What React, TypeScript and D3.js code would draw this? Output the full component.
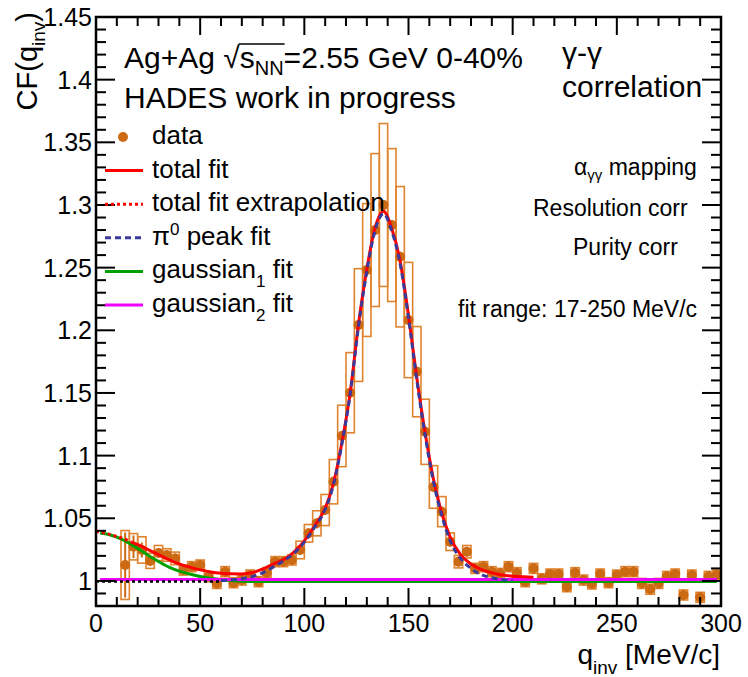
import React, { useLayoutEffect, useRef, useState } from "react";
import * as d3 from "d3";

// ---- data ----
const qBins = [14, 18, 22, 26, 30, 34, 38, 42, 46, 50, 54, 58, 62, 66, 70, 74, 78, 82, 86, 90, 94, 98, 102, 106, 110, 114, 118, 122, 126, 130, 134, 138, 142, 146, 150, 154, 158, 162, 166, 170, 174, 178, 182, 186, 190, 194, 198, 202, 206, 210, 214, 218, 222, 226, 230, 234, 238, 242, 246, 250, 254, 258, 262, 266, 270, 274, 278, 282, 286, 290, 294, 298];
const cfValues = [1.0127, 1.0273, 1.0247, 1.016, 1.0223, 1.0207, 1.018, 1.0087, 1.0114, 1.0127, 1.0034, 0.998, 1.0074, 0.9986, 1.0007, 1.0047, 0.9994, 1.0066, 1.0154, 1.0154, 1.0167, 1.0247, 1.038, 1.046, 1.0566, 1.0792, 1.1157, 1.1502, 1.2042, 1.2481, 1.28, 1.3, 1.284, 1.2587, 1.2082, 1.167, 1.119, 1.075, 1.0553, 1.0313, 1.0154, 1.0233, 1.01, 1.0114, 1.0074, 1.006, 1.0114, 1.0066, 0.9994, 1.01, 1.0017, 1.0055, 1.0055, 0.9954, 1.0066, 1.0007, 0.9976, 1.0055, 0.9986, 1.0047, 1.0074, 1.0074, 0.998, 0.9934, 0.998, 1.0036, 1.0055, 0.9888, 1.0047, 0.9869, 1.0036, 1.0047];
const statErrors = [0.026, 0.009, 0.006, 0.004, 0.004, 0.004, 0.004, 0.004, 0.004, 0.004, 0.004, 0.004, 0.004, 0.004, 0.004, 0.004, 0.004, 0.004, 0.004, 0.004, 0.004, 0.004, 0.004, 0.004, 0.004, 0.004, 0.004, 0.004, 0.004, 0.004, 0.004, 0.004, 0.004, 0.004, 0.004, 0.004, 0.004, 0.004, 0.004, 0.004, 0.004, 0.004, 0.004, 0.004, 0.004, 0.004, 0.004, 0.004, 0.004, 0.004, 0.004, 0.004, 0.004, 0.004, 0.004, 0.004, 0.004, 0.004, 0.004, 0.004, 0.004, 0.004, 0.004, 0.004, 0.004, 0.004, 0.004, 0.004, 0.004, 0.004, 0.004, 0.004];
const sysErrors = [0.0275, 0.0105, 0.0105, 0.006, 0.006, 0.005, 0.005, 0.004, 0.004, 0.004, 0.004, 0.004, 0.004, 0.004, 0.004, 0.004, 0.004, 0.004, 0.004, 0.004, 0.004, 0.007, 0.007, 0.01, 0.0124, 0.0177, 0.0245, 0.032, 0.045, 0.053, 0.061, 0.065, 0.061, 0.056, 0.046, 0.036, 0.026, 0.017, 0.012, 0.007, 0.005, 0.005, 0.004, 0.004, 0.004, 0.004, 0.004, 0.004, 0.004, 0.004, 0.004, 0.004, 0.004, 0.004, 0.004, 0.004, 0.004, 0.004, 0.004, 0.004, 0.004, 0.004, 0.004, 0.004, 0.004, 0.004, 0.004, 0.004, 0.004, 0.004, 0.004, 0.004];

const totalFitQ = [17, 20, 25, 30, 35, 40, 45, 50, 55, 60, 65, 70, 75, 80, 85, 90, 95, 100, 105, 110, 114, 118, 122, 126, 130, 134, 138, 142, 146, 150, 154, 158, 162, 166, 170, 175, 180, 185, 190, 195, 200, 205, 210];
const totalFitCF = [1.031, 1.029, 1.025, 1.021, 1.017, 1.0135, 1.011, 1.0088, 1.0072, 1.0062, 1.0057, 1.0056, 1.0065, 1.0095, 1.0135, 1.017, 1.023, 1.032, 1.044, 1.058, 1.078, 1.11, 1.15, 1.205, 1.249, 1.282, 1.295, 1.281, 1.255, 1.212, 1.162, 1.118, 1.081, 1.054, 1.035, 1.021, 1.0135, 1.009, 1.0065, 1.0048, 1.0038, 1.0033, 1.003];
const extrapQ = [0, 5, 10, 15, 17];
const extrapCF = [1.0395, 1.0378, 1.0355, 1.0325, 1.031];
const peakFitQ = [60, 65, 70, 75, 80, 85, 90, 95, 100, 105, 110, 114, 118, 122, 126, 130, 134, 138, 142, 146, 150, 154, 158, 162, 166, 170, 175, 180, 185, 190, 195, 200];
const peakFitCF = [1.0003, 1.0008, 1.0018, 1.0035, 1.0065, 1.011, 1.016, 1.022, 1.031, 1.043, 1.057, 1.077, 1.109, 1.149, 1.203, 1.247, 1.28, 1.293, 1.279, 1.253, 1.21, 1.16, 1.116, 1.079, 1.052, 1.032, 1.018, 1.01, 1.005, 1.0025, 1.001, 1.0005];
const peakBaseQ = [0, 60];
const peakBaseCF = [0.9995, 0.9995];
const gauss1Q = [2, 5, 10, 15, 20, 25, 30, 35, 40, 45, 50, 55, 60, 65, 70, 80, 298];
const gauss1CF = [1.038, 1.0375, 1.035, 1.031, 1.026, 1.0205, 1.0155, 1.011, 1.0078, 1.0055, 1.0035, 1.002, 1.001, 1.0003, 0.9998, 0.9995, 0.9995];
const gauss2Q = [2, 298];
const gauss2CF = [1.0012, 1.0012];

const xMajorTicks = [0, 50, 100, 150, 200, 250, 300];
const xTickLabels = ["0", "50", "100", "150", "200", "250", "300"];
const yMajorTicks = [1, 1.05, 1.1, 1.15, 1.2, 1.25, 1.3, 1.35, 1.4, 1.45];
const yTickLabels = ["1", "1.05", "1.1", "1.15", "1.2", "1.25", "1.3", "1.35", "1.4", "1.45"];

const FONT = "'Liberation Sans', Arial, Helvetica, sans-serif";
const ORANGE = "#cc6a14";
const BOXC = "#e0832e";
const RED = "#ff0000";
const BLUE = "#3a3a9c";
const GREEN = "#00a000";
const MAGENTA = "#ee00ff";

export default function App() {
  const x = d3.scaleLinear().domain([0, 300]).range([96, 721]);
  const y = d3.scaleLinear().domain([0.98, 1.45]).range([606, 17]);
  const line = (qs: number[], vs: number[], curve = d3.curveMonotoneX) =>
    d3.line<number>().x((_, i) => x(qs[i])).y((v) => y(v)).curve(curve)(vs) || "";

  const xMinor = d3.range(0, 31).map((v) => v * 10);
  const yMinor = d3.range(98, 146).map((v) => v / 100);
  const binW = x(4) - x(0);

  const textRef = useRef<SVGTextElement>(null);
  const [ov, setOv] = useState<{ x1: number; x2: number; y: number } | null>(null);
  useLayoutEffect(() => {
    const t = textRef.current;
    if (!t) return;
    try {
      const n = t.getExtentOfChar(9);
      const r = t.getExtentOfChar(6);
      setOv({ x1: r.x + r.width - 1, x2: n.x + n.width + 1, y: r.y + 3 });
    } catch (e) {}
  }, []);

  const legendRows = [
    { label: "data", kind: "marker" },
    { label: "total fit", kind: "red" },
    { label: "total fit extrapolation", kind: "reddot" },
    { label: "pi", kind: "blue" },
    { label: "g1", kind: "green" },
    { label: "g2", kind: "magenta" },
  ];

  return (
    <svg width={748} height={677} style={{ position: "absolute", left: 0, top: 0, background: "#fff" }} fontFamily={FONT}>
      <defs>
        <clipPath id="plotclip">
          <rect x={96} y={17} width={625} height={589} />
        </clipPath>
      </defs>
      <rect x={0} y={0} width={748} height={677} fill="#fff" />

      {/* data: systematic boxes, stat errors, markers */}
      <g clipPath="url(#plotclip)">
        {qBins.map((q, i) => (
          <rect key={"b" + i} x={x(q) - binW / 2} y={y(cfValues[i] + sysErrors[i])} width={binW}
            height={y(cfValues[i] - sysErrors[i]) - y(cfValues[i] + sysErrors[i])}
            fill="none" stroke={BOXC} strokeWidth={1.6} />
        ))}
        {qBins.map((q, i) => (
          <line key={"e" + i} x1={x(q)} x2={x(q)} y1={y(cfValues[i] + statErrors[i])} y2={y(cfValues[i] - statErrors[i])}
            stroke={ORANGE} strokeWidth={2} />
        ))}
        {qBins.map((q, i) => (
          <circle key={"m" + i} cx={x(q)} cy={y(cfValues[i])} r={5} fill={ORANGE} />
        ))}

        {/* fit curves */}
        <path d={line(gauss1Q, gauss1CF)} fill="none" stroke={GREEN} strokeWidth={3} />
        <path d={line(gauss2Q, gauss2CF, d3.curveLinear)} fill="none" stroke={MAGENTA} strokeWidth={3} />
        <path d={line(peakBaseQ, peakBaseCF, d3.curveLinear)} fill="none" stroke="#000" strokeWidth={2.5} strokeDasharray="3 3" />
        <path d={line(extrapQ, extrapCF)} fill="none" stroke={RED} strokeWidth={3} strokeDasharray="3 3" />
        <path d={line(totalFitQ, totalFitCF)} fill="none" stroke={RED} strokeWidth={3} />
        <path d={line(peakFitQ, peakFitCF)} fill="none" stroke={BLUE} strokeWidth={3} strokeDasharray="6 4" />
      </g>

      {/* frame & ticks */}
      <rect x={96} y={17} width={625} height={589} fill="none" stroke="#000" strokeWidth={2.5} />
      <g stroke="#000" strokeWidth={2}>
        {xMinor.map((v) => {
          const major = v % 50 === 0;
          const L = major ? 18 : 9;
          return (
            <g key={"xt" + v}>
              <line x1={x(v)} x2={x(v)} y1={606} y2={606 - L} />
              <line x1={x(v)} x2={x(v)} y1={17} y2={17 + L} />
            </g>
          );
        })}
        {yMinor.map((v, i) => {
          const major = Math.round(v * 100) % 5 === 0;
          const L = major ? 19 : 10;
          return (
            <g key={"yt" + i}>
              <line x1={96} x2={96 + L} y1={y(v)} y2={y(v)} />
              <line x1={721} x2={721 - L} y1={y(v)} y2={y(v)} />
            </g>
          );
        })}
      </g>

      {/* tick labels */}
      <g fontSize={25} fill="#000">
        {yMajorTicks.map((v, i) => (
          <text key={"yl" + i} x={92} y={y(v) + 9} textAnchor="end">{yTickLabels[i]}</text>
        ))}
        {xMajorTicks.map((v, i) => (
          <text key={"xl" + i} x={x(v)} y={632} textAnchor="middle">{xTickLabels[i]}</text>
        ))}
      </g>

      {/* axis titles */}
      <text transform="translate(37,12) rotate(-90)" textAnchor="end" fontSize={29}>
        CF(q<tspan fontSize={19} dy={8}>inv</tspan><tspan dy={-8}>)</tspan>
      </text>
      <text x={720} y={664} textAnchor="end" fontSize={28}>
        q<tspan fontSize={19} dy={10}>inv</tspan><tspan dy={-10}> [MeV/c]</tspan>
      </text>

      {/* header texts */}
      <text ref={textRef} x={124} y={68} fontSize={30}>
        Ag+Ag √s<tspan fontSize={20} dy={7}>NN</tspan><tspan dy={-7}>=2.55 GeV 0-40%</tspan>
      </text>
      {ov && <line x1={ov.x1} x2={ov.x2} y1={ov.y} y2={ov.y} stroke="#000" strokeWidth={1.5} />}
      <text x={124} y={108} fontSize={30}>HADES work in progress</text>
      <text x={562} y={63} fontSize={30}>γ-γ</text>
      <text x={562} y={97} fontSize={30}>correlation</text>

      <g fontSize={23}>
        <text x={574} y={175}>α<tspan fontSize={15} dy={5}>γγ</tspan><tspan dy={-5}> mapping</tspan></text>
        <text x={533} y={216}>Resolution corr</text>
        <text x={573} y={255}>Purity corr</text>
        <text x={458} y={317}>fit range: 17-250 MeV/c</text>
      </g>

      {/* legend */}
      <g fontSize={26}>
        {legendRows.map((r, i) => {
          const cy = 137 + i * 33.6;
          const ty = cy + 7;
          let sample: React.ReactNode = null;
          if (r.kind === "marker") sample = <circle cx={123} cy={cy} r={5} fill={ORANGE} />;
          else {
            const col = r.kind === "red" || r.kind === "reddot" ? RED : r.kind === "blue" ? BLUE : r.kind === "green" ? GREEN : MAGENTA;
            const dash = r.kind === "reddot" ? "3 3" : r.kind === "blue" ? "6 4" : undefined;
            sample = <line x1={105} x2={143} y1={cy} y2={cy} stroke={col} strokeWidth={3} strokeDasharray={dash} />;
          }
          let label: React.ReactNode = r.label;
          if (r.kind === "blue") label = (<>π<tspan fontSize={17} dy={-10}>0</tspan><tspan dy={10}> peak fit</tspan></>);
          if (r.kind === "green") label = (<>gaussian<tspan fontSize={17} dy={9}>1</tspan><tspan dy={-9}> fit</tspan></>);
          if (r.kind === "magenta") label = (<>gaussian<tspan fontSize={17} dy={9}>2</tspan><tspan dy={-9}> fit</tspan></>);
          return (
            <g key={"lg" + i}>
              {sample}
              <text x={152} y={ty}>{label}</text>
            </g>
          );
        })}
      </g>
    </svg>
  );
}
